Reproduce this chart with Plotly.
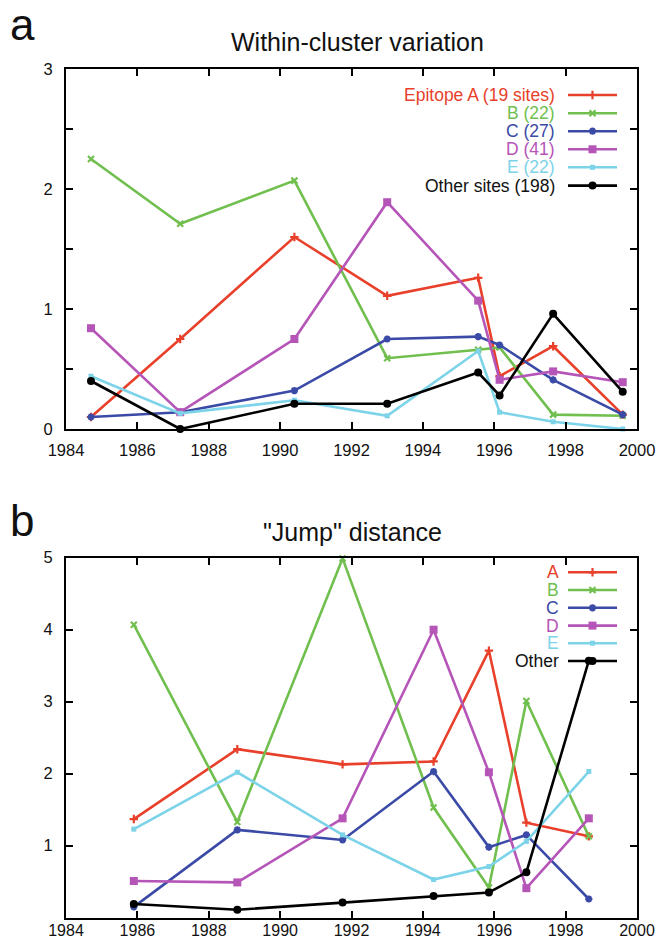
import plotly.graph_objects as go

# ---------------- data ----------------
years_a = [1984.7, 1987.2, 1990.4, 1993.0, 1995.55, 1996.15, 1997.65, 1999.6]
within_A = [0.10, 0.75, 1.60, 1.11, 1.26, 0.44, 0.69, 0.12]
within_B = [2.25, 1.71, 2.07, 0.59, 0.66, 0.68, 0.12, 0.11]
within_C = [0.10, 0.14, 0.32, 0.75, 0.77, 0.70, 0.41, 0.12]
within_D = [0.84, 0.14, 0.75, 1.89, 1.07, 0.41, 0.48, 0.39]
within_E = [0.44, 0.13, 0.24, 0.11, 0.65, 0.14, 0.06, 0.00]
within_O = [0.40, 0.00, 0.21, 0.21, 0.47, 0.28, 0.96, 0.31]

years_b = [1985.9, 1988.8, 1991.75, 1994.3, 1995.85, 1996.9, 1998.65]
jump_A = [1.37, 2.34, 2.13, 2.17, 3.71, 1.32, 1.13]
jump_B = [4.07, 1.33, 4.99, 1.53, 0.42, 3.01, 1.13]
jump_C = [0.15, 1.22, 1.08, 2.03, 0.98, 1.15, 0.26]
jump_D = [0.51, 0.49, 1.38, 4.00, 2.02, 0.41, 1.38]
jump_E = [1.23, 2.02, 1.15, 0.53, 0.71, 1.06, 2.03]
jump_O = [0.19, 0.11, 0.21, 0.30, 0.35, 0.63, 3.57]

labels_a = ["Epitope A (19 sites)", "B (22)", "C (27)", "D (41)", "E (22)", "Other sites (198)"]
labels_b = ["A", "B", "C", "D", "E", "Other"]
title_a = "Within-cluster variation"
title_b = "\"Jump\" distance"

x_ticks = list(range(1984, 2001, 2))
y_ticks_a = [0, 0.5, 1, 1.5, 2, 2.5, 3]
y_text_a = ["0", "", "1", "", "2", "", "3"]
y_ticks_b = [1, 2, 3, 4, 5]

# ---------------- styles ----------------
colors = ["#e8402a", "#70bf4f", "#3a4aa6", "#b555b8", "#7dd3e8", "#000000"]
symbols = ["cross-thin-open", "x-thin-open", "asterisk-open", "square", "square", "circle"]
msizes = [6, 6, 6, 8, 5, 8]
FONT = "Liberation Sans, Arial, Helvetica, sans-serif"
W, H = 659, 940
LW = 2.6

series_a = [within_A, within_B, within_C, within_D, within_E, within_O]
series_b = [jump_A, jump_B, jump_C, jump_D, jump_E, jump_O]

fig = go.Figure()


def marker(i):
    open_sym = "thin" in symbols[i] or "asterisk" in symbols[i]
    return dict(symbol=symbols[i], size=msizes[i], color=colors[i],
                line=dict(color=colors[i], width=2.2 if open_sym else 0))


for i, ys in enumerate(series_a):
    fig.add_trace(go.Scatter(x=years_a, y=ys, mode="lines+markers", xaxis="x", yaxis="y",
                             line=dict(color=colors[i], width=LW), marker=marker(i),
                             cliponaxis=False, showlegend=False))
for i, ys in enumerate(series_b):
    fig.add_trace(go.Scatter(x=years_b, y=ys, mode="lines+markers", xaxis="x2", yaxis="y2",
                             line=dict(color=colors[i], width=LW), marker=marker(i),
                             cliponaxis=False, showlegend=False))

# ---------------- manual legends (pixel overlay axis) ----------------
annotations = []
leg_a_rows = [95, 113.2, 131.2, 149.3, 167.3, 185.6]
leg_b_rows = [572.3, 590.0, 607.8, 625.6, 643.2, 661.0]
for rows, labels, text_right in [(leg_a_rows, labels_a, 557), (leg_b_rows, labels_b, 561)]:
    for i, (yy, lab) in enumerate(zip(rows, labels)):
        fig.add_trace(go.Scatter(x=[568, 592.5, 617], y=[yy, yy, yy], mode="lines",
                                 xaxis="x3", yaxis="y3", line=dict(color=colors[i], width=LW),
                                 showlegend=False, hoverinfo="skip"))
        fig.add_trace(go.Scatter(x=[592.5], y=[yy], mode="markers", xaxis="x3", yaxis="y3",
                                 marker=marker(i), showlegend=False, hoverinfo="skip"))
        annotations.append(dict(x=text_right / W, y=1 - yy / H, xref="paper", yref="paper",
                                xanchor="right", yanchor="middle", showarrow=False,
                                text=lab, font=dict(family=FONT, size=17.5,
                                                    color=colors[i] if i < 5 else "#111")))

# titles and panel letters
annotations += [
    dict(x=358 / W, y=1 - 42 / H, xref="paper", yref="paper", text=title_a, showarrow=False,
         xanchor="center", yanchor="middle", font=dict(family=FONT, size=25, color="#111")),
    dict(x=352 / W, y=1 - 532 / H, xref="paper", yref="paper", text=title_b, showarrow=False,
         xanchor="center", yanchor="middle", font=dict(family=FONT, size=25, color="#111")),
    dict(x=22 / W, y=1 - 25 / H, xref="paper", yref="paper", text="a", showarrow=False,
         xanchor="center", yanchor="middle", font=dict(family=FONT, size=44, color="#111")),
    dict(x=22 / W, y=1 - 520 / H, xref="paper", yref="paper", text="b", showarrow=False,
         xanchor="center", yanchor="middle", font=dict(family=FONT, size=44, color="#111")),
]

axis_common = dict(showline=True, linecolor="black", linewidth=2, mirror="ticks",
                   ticks="inside", ticklen=7, tickwidth=1.5, tickcolor="black",
                   showgrid=False, zeroline=False, automargin=False,
                   tickfont=dict(family=FONT, size=16.5, color="#111"))
axis_bottom = dict(axis_common)
axis_bottom["tickfont"] = dict(family=FONT, size=16, color="#111")

xdom = [66 / W, 637 / W]
fig.update_layout(
    template="none",
    width=W, height=H, margin=dict(l=0, r=0, t=0, b=0, pad=0),
    paper_bgcolor="white", plot_bgcolor="rgba(0,0,0,0)",
    showlegend=False,
    xaxis=dict(domain=xdom, range=[1984, 2000], tickvals=x_ticks, anchor="y",
               ticklabelstandoff=5, **axis_common),
    yaxis=dict(domain=[1 - 429 / H, 1 - 69 / H], range=[0, 3], tickvals=y_ticks_a,
               ticktext=y_text_a, anchor="x", ticklabelstandoff=8, **axis_common),
    xaxis2=dict(domain=xdom, range=[1984, 2000], tickvals=x_ticks, anchor="y2",
                ticklabelstandoff=-3, **axis_bottom),
    yaxis2=dict(domain=[1 - 917.7 / H, 1 - 557.7 / H], range=[0, 5], tickvals=y_ticks_b,
                anchor="x2", ticklabelstandoff=8, **axis_common),
    xaxis3=dict(domain=[0, 1], range=[0, W], visible=False, anchor="y3",
                fixedrange=True, automargin=False),
    yaxis3=dict(domain=[0, 1], range=[H, 0], visible=False, anchor="x3",
                fixedrange=True, automargin=False),
    annotations=annotations,
)

fig.write_html("out.html")
